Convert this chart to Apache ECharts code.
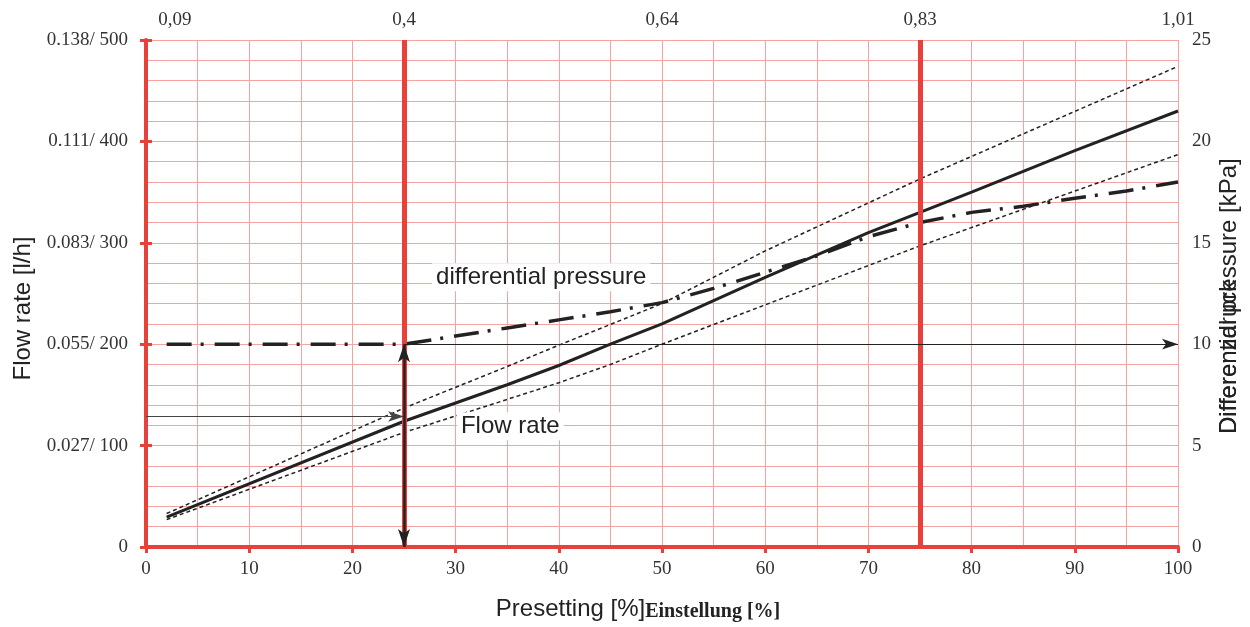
<!DOCTYPE html>
<html>
<head>
<meta charset="utf-8">
<title>Presetting chart</title>
<script src="https://cdn.jsdelivr.net/npm/echarts@6/dist/echarts.min.js"></script>
<style>
    html, body { margin: 0; padding: 0; background: #fff; }
    #chart { width: 1250px; height: 627px; }
</style>
</head>
<body>
<div id="chart"></div>
<script>
// presetting [%] -> flow rate [l/h]
const flowX = [2, 25, 35, 40, 45, 50, 60, 70, 75, 80, 90, 100];
const flowRate = [29.5, 124, 160, 179, 200, 220, 266, 310, 330, 350, 391, 430];
// tolerance band (dashed)
const upperX = [2, 25, 35, 40, 50, 60, 75, 100];
const flowUpper = [33, 137, 178, 199, 240, 292, 363, 474];
const lowerX = [2, 25, 32.7, 40, 45, 50, 75, 100];
const flowLower = [27, 113, 138, 162, 180, 200, 297, 387];
// differential pressure [kPa]
const dpX = [2, 25, 30, 35, 40, 45, 50, 55, 60, 65, 70, 75, 80, 85, 90, 95, 100];
const diffPressure = [10, 10, 10.4, 10.8, 11.2, 11.6, 12.05, 12.75, 13.55, 14.35, 15.3, 16.0, 16.5, 16.8, 17.2, 17.55, 18];

// axis labels
const leftTicks = [0, 100, 200, 300, 400, 500];
const leftTickLabels = ['0', '0.027/ 100', '0.055/ 200', '0.083/ 300', '0.111/ 400', '0.138/ 500'];
const topTicks = [2.8, 25, 50, 75, 100];
const topTickLabels = ['0,09', '0,4', '0,64', '0,83', '1,01'];

// guide lines and arrows
const guideX = [25, 75];
const readFlow = 128.7;   // l/h, arrow towards the curve
const readDp = 10;        // kPa

const RED = '#e8413b';
const GRID = '#f5a3a1';
const INK = '#222';
const SERIF = 'Liberation Serif';
const SANS = 'Liberation Sans';

function pairs(xs, ys) {
    return xs.map((x, i) => [x, ys[i]]);
}

let chartDom = document.getElementById('chart');
let myChart = echarts.init(chartDom);
let option;

option = {
    animation: false,
    grid: { left: 146, right: 72, top: 40, bottom: 78 },
    xAxis: [
        {
            type: 'value',
            position: 'bottom',
            min: 0,
            max: 100,
            interval: 10,
            axisLine: { lineStyle: { color: RED, width: 3 } },
            axisTick: { length: 6, lineStyle: { color: RED, width: 3 } },
            axisLabel: { color: '#333', fontFamily: SERIF, fontSize: 19, margin: 13 },
            splitLine: { show: true, lineStyle: { color: GRID, width: 1 } },
            minorTick: { show: false, splitNumber: 2 },
            minorSplitLine: { show: true, lineStyle: { color: GRID, width: 1 } },
            name: '{a|Presetting [%]}{b|Einstellung [%]}',
            nameLocation: 'middle',
            nameGap: 50,
            nameTextStyle: {
                padding: [0, 48, 0, 0],
                rich: {
                    a: { fontFamily: SANS, fontSize: 24, color: INK },
                    b: { fontFamily: SERIF, fontSize: 20, fontWeight: 'bold', color: INK, padding: [5, 0, 0, 0] }
                }
            }
        },
        {
            type: 'value',
            position: 'top',
            min: 0,
            max: 100,
            axisLine: { lineStyle: { color: RED, width: 4 } },
            axisTick: { show: false },
            axisLabel: {
                customValues: topTicks,
                color: '#333',
                fontFamily: SERIF,
                fontSize: 19,
                margin: 10,
                formatter: function (v) {
                    const i = topTicks.indexOf(v);
                    return i >= 0 ? topTickLabels[i] : '';
                }
            },
            splitLine: { show: false }
        }
    ],
    yAxis: [
        {
            type: 'value',
            position: 'left',
            min: 0,
            max: 500,
            interval: 100,
            axisLine: { show: true, lineStyle: { color: RED, width: 4 } },
            axisTick: { show: true, length: 6, lineStyle: { color: RED, width: 3 } },
            axisLabel: {
                color: '#333',
                fontFamily: SERIF,
                fontSize: 19,
                margin: 18,
                formatter: function (v) {
                    const i = leftTicks.indexOf(v);
                    return i >= 0 ? leftTickLabels[i] : '';
                }
            },
            splitLine: { show: true, lineStyle: { color: GRID, width: 1 } },
            minorTick: { show: false, splitNumber: 5 },
            minorSplitLine: { show: true, lineStyle: { color: GRID, width: 1 } },
            name: 'Flow rate [l/h]',
            nameLocation: 'middle',
            nameRotate: 90,
            nameGap: 110,
            nameTextStyle: { fontFamily: SANS, fontSize: 24, color: INK, padding: [0, 30, 0, 0] }
        },
        {
            type: 'value',
            position: 'right',
            min: 0,
            max: 25,
            interval: 5,
            axisLine: { show: true, lineStyle: { color: RED, width: 3 } },
            axisTick: { show: true, length: 6, lineStyle: { color: RED, width: 3 } },
            axisLabel: { color: '#333', fontFamily: SERIF, fontSize: 19, margin: 14 },
            splitLine: { show: false }
        }
    ],
    graphic: [
        {
            type: 'text',
            x: 1229,
            y: 434,
            rotation: Math.PI / 2,
            style: { text: 'Differential pressure [kPa]', font: '24px "Liberation Sans"', fill: INK, textAlign: 'left', textVerticalAlign: 'middle' }
        },
        {
            type: 'text',
            x: 1229,
            y: 434,
            rotation: Math.PI / 2,
            style: { text: 'Differenzdruck', font: '24px "Liberation Sans"', fill: INK, textAlign: 'left', textVerticalAlign: 'middle' }
        }
    ],
    series: [
        {
            name: 'guides',
            type: 'line',
            data: [],
            z: 1,
            markLine: {
                silent: true,
                symbol: 'none',
                label: { show: false },
                lineStyle: { color: RED, width: 5, type: 'solid' },
                data: guideX.map(x => ({ xAxis: x }))
            }
        },
        {
            name: 'upper',
            type: 'line',
            data: pairs(upperX, flowUpper),
            showSymbol: false,
            z: 3,
            lineStyle: { color: INK, width: 1.5, type: [4, 3] }
        },
        {
            name: 'lower',
            type: 'line',
            data: pairs(lowerX, flowLower),
            showSymbol: false,
            z: 3,
            lineStyle: { color: INK, width: 1.5, type: [4, 3] }
        },
        {
            name: 'Flow rate',
            type: 'line',
            data: pairs(flowX, flowRate),
            showSymbol: false,
            z: 4,
            lineStyle: { color: INK, width: 3 },
            markPoint: {
                symbol: 'rect',
                symbolSize: 0,
                label: {
                    show: true,
                    formatter: 'Flow rate',
                    fontFamily: SANS,
                    fontSize: 24,
                    color: INK,
                    backgroundColor: '#fff',
                    padding: [2, 4]
                },
                data: [{ coord: [35.3, 119] }]
            },
            markLine: {
                silent: true,
                label: { show: false },
                data: [
                    [
                        { coord: [0, readFlow], symbol: 'none', lineStyle: { color: '#444', width: 1, type: 'solid' } },
                        { coord: [25, readFlow], symbol: 'arrow', symbolSize: [8, 16] }
                    ],
                    [
                        { coord: [25, 0], symbol: 'arrow', symbolSize: [9, 18], lineStyle: { color: INK, width: 2.5, type: 'solid' } },
                        { coord: [25, 200], symbol: 'arrow', symbolSize: [9, 18] }
                    ]
                ]
            }
        },
        {
            name: 'differential pressure',
            type: 'line',
            yAxisIndex: 1,
            data: pairs(dpX, diffPressure),
            showSymbol: false,
            z: 4,
            lineStyle: { color: INK, width: 3.5, type: [25, 9, 3, 11] },
            markPoint: {
                symbol: 'rect',
                symbolSize: 0,
                label: {
                    show: true,
                    formatter: 'differential pressure',
                    fontFamily: SANS,
                    fontSize: 24,
                    color: INK,
                    backgroundColor: '#fff',
                    padding: [2, 4]
                },
                data: [{ coord: [38.3, 13.3] }]
            },
            markLine: {
                silent: true,
                label: { show: false },
                data: [
                    [
                        { coord: [25, readDp], symbol: 'none', lineStyle: { color: INK, width: 1, type: 'solid' } },
                        { coord: [100, readDp], symbol: 'arrow', symbolSize: [8, 16] }
                    ]
                ]
            }
        }
    ]
};

option && myChart.setOption(option);
</script>
</body>
</html>
